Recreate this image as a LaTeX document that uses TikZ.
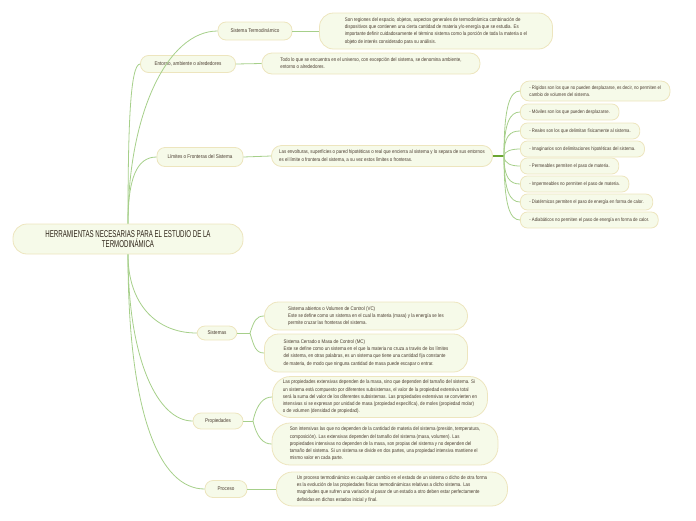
\documentclass[tikz,border=0pt]{standalone}
\usepackage{fontspec}
\setmainfont{Liberation Sans}
\newfontfamily\mapfont[FakeStretch=0.85]{Liberation Sans}
\newfontfamily\titlefont[FakeStretch=0.62]{Liberation Sans}
\usetikzlibrary{positioning}
\definecolor{nodefill}{HTML}{F6FAE9}
\definecolor{nodeline}{HTML}{EDE5BE}
\definecolor{linkgreen}{HTML}{A6CF8A}
\definecolor{hubgreen}{HTML}{6BA632}
\definecolor{inkbrown}{HTML}{4A3C30}
\definecolor{titleink}{HTML}{2E2418}

\begin{document}
\begin{tikzpicture}[
  x=1pt, y=-1pt,
  every node/.style={draw=nodeline, fill=nodefill, line width=0.8pt, text=inkbrown, inner sep=0pt},
  topic/.style={rounded corners=8pt, minimum height=17pt, font=\mapfont\fontsize{5.4}{7}\selectfont},
  leaf/.style={rounded corners=14pt, align=left, font=\mapfont\fontsize{5.2}{7.2}\selectfont},
  item/.style={anchor=west, rounded corners=7pt, minimum height=16pt, inner xsep=9pt, align=left, font=\mapfont\fontsize{5}{7.2}\selectfont},
  link/.style={draw=linkgreen, line width=0.8pt},
  hub/.style={draw=hubgreen, line width=2.4pt}
]
\useasboundingbox (0,0) rectangle (696,520);

% central topic
\node[rounded corners=14pt, minimum width=230pt, minimum height=30pt, align=center, text=titleink,
      font=\titlefont\fontsize{9.9}{10.8}\selectfont] (root) at (128,239)
  {HERRAMIENTAS NECESARIAS PARA EL ESTUDIO DE LA\\TERMODIN\'AMICA};

% main branches
\node[topic, minimum width=74pt, minimum height=18pt] (st) at (255,31) {Sistema Termodin\'amico};
\node[topic, minimum width=95pt] (env) at (188,64) {Entorno, ambiente o alrededores};
\node[topic, minimum width=86pt, minimum height=19pt] (lim) at (200,157) {L\'imites o Fronteras del Sistema};
\node[topic, minimum width=40pt, minimum height=14pt] (sis) at (217,333) {Sistemas};
\node[topic, minimum width=50pt, minimum height=16pt] (prop) at (218,421) {Propiedades};
\node[topic, minimum width=42pt] (proc) at (226,489) {Proceso};

% texts of the branches
\node[leaf, minimum width=233pt, minimum height=36pt] (stbox) at (436,31)
  {Son regiones del espacio, objetos, aspectos generales de termodin\'amica combinaci\'on de\\
   dispositivos que contienen una cierta cantidad de materia y/o energ\'ia que se estudia. Es\\
   importante definir cuidadosamente el t\'ermino sistema como la porci\'on de toda la materia o el\\
   objeto de inter\'es considerado para su an\'alisis.};
\node[leaf, rounded corners=10pt, minimum width=218pt, minimum height=21pt] (envbox) at (371,63.5)
  {Todo lo que se encuentra en el universo, con excepci\'on del sistema, se denomina ambiente,\\
   entorno o alrededores.};
\node[leaf, rounded corners=10pt, minimum width=221pt, minimum height=21pt] (limbox) at (382,156)
  {Las envolturas, superficies o pared hipot\'eticas o real que encierra al sistema y lo separa de sus entornos\\
   es el l\'imite o frontera del sistema, a su vez estos l\'imites o fronteras.};
\node[leaf, minimum width=203pt, minimum height=28pt] (sisbox1) at (366,316)
  {Sistema abiertos o Volumen de Control (VC)\\
   Este se define como un sistema en el cual la materia (masa) y la energ\'ia se les\\
   permite cruzar las fronteras del sistema.};
\node[leaf, minimum width=203pt, minimum height=38pt] (sisbox2) at (366,353)
  {Sistema Cerrado o Masa de Control (MC)\\
   Este se define como un sistema en el que la materia no cruza a trav\'es de los l\'imites\\
   del sistema, en otras palabras, es un sistema que tiene una cantidad fija constante\\
   de materia, de modo que ninguna cantidad de masa puede escapar o entrar.};
\node[leaf, rounded corners=18pt, minimum width=215pt, minimum height=41pt] (propbox1) at (380,397)
  {Las propiedades extensivas dependen de la masa, sino que dependen del tama\~no del sistema. Si\\
   un sistema est\'a compuesto por diferentes subsistemas, el valor de la propiedad extensiva total\\
   ser\'a la suma del valor de los diferentes subsistemas. Las propiedades extensivas se convierten en\\
   intensivas si se expresan por unidad de masa (propiedad espec\'ifica), de moles (propiedad molar)\\
   o de volumen (densidad de propiedad).};
\node[leaf, rounded corners=18pt, minimum width=226pt, minimum height=42pt] (propbox2) at (385,444)
  {Son intensivas las que no dependen de la cantidad de materia del sistema (presi\'on, temperatura,\\
   composici\'on). Las extensivas dependen del tama\~no del sistema (masa, volumen). Las\\
   propiedades intensivas no dependen de la masa, son propias del sistema y no dependen del\\
   tama\~no del sistema. Si un sistema se divide en dos partes, una propiedad intensiva mantiene el\\
   mismo valor en cada parte.};
\node[leaf, rounded corners=16pt, minimum width=231pt, minimum height=34pt] (procbox) at (392,489)
  {Un proceso termodin\'amico es cualquier cambio en el estado de un sistema o dicho de otra forma\\
   es la evoluci\'on de las propiedades f\'isicas termodin\'amicas relativas a dicho sistema. Las\\
   magnitudes que sufren una variaci\'on al pasar de un estado a otro deben estar perfectamente\\
   definidas en dichos estados inicial y final.};

% kinds of boundaries
\node[item, minimum height=20pt, rounded corners=9pt] (rigid) at (520,91)
  {- R\'igidos son los que no pueden desplazarse, es decir, no permiten el\\cambio de volumen del sistema.};
\node[item] (movil) at (520,112) {- M\'oviles son los que pueden desplazarse.};
\node[item] (real) at (520,131) {- Reales son los que delimitan f\'isicamente al sistema.};
\node[item] (imag) at (520,149) {- Imaginarios son delimitaciones hipot\'eticas del sistema.};
\node[item] (perm) at (520,166) {- Permeables permiten el paso de materia.};
\node[item] (imperm) at (520,184) {- Impermeables no permiten el paso de materia.};
\node[item] (diat) at (520,202) {- Diat\'ermicos permiten el paso de energ\'ia en forma de calor.};
\node[item] (adiab) at (520,220) {- Adiab\'aticos no permiten el paso de energ\'ia en forma de calor.};

% connectors from the central topic
\draw[link] (root.north) .. controls +(0,-110) and +(-50,0) .. (st.west);
\draw[link] (root.north) .. controls +(0,-95) and +(-10,0) .. (env.west);
\draw[link] (root.north) .. controls +(0,-45) and +(-20,0) .. (lim.west);
\draw[link] (root.south) .. controls +(0,50) and +(-40,0) .. (sis.west);
\draw[link] (root.south) .. controls +(0,105) and +(-35,0) .. (prop.west);
\draw[link] (root.south) .. controls +(0,160) and +(-45,0) .. (proc.west);

% branch to text
\draw[link] (st.east) -- (stbox.west);
\draw[link] (env.east) -- (envbox.west);
\draw[link] (lim.east) -- (limbox.west);
\draw[link] (proc.east) -- (procbox.west);

\coordinate (sishub) at (250,333);
\draw[link] (sis.east) -- (sishub);
\draw[link] (sishub) .. controls +(4,-12) and +(-8,0) .. (sisbox1.west);
\draw[link] (sishub) .. controls +(4,14) and +(-8,0) .. (sisbox2.west);

\coordinate (prophub) at (253,421);
\draw[link] (prop.east) -- (prophub);
\draw[link] (prophub) .. controls +(4,-18) and +(-8,0) .. (propbox1.west);
\draw[link] (prophub) .. controls +(4,17) and +(-8,0) .. (propbox2.west);

\coordinate (limhub) at (504,156);
\draw[hub] (limbox.east) -- (limhub);
\draw[link] (limhub) .. controls +(0,-50) and +(-10,0) .. (rigid.west);
\draw[link] (limhub) .. controls +(0,-33) and +(-10,0) .. (movil.west);
\draw[link] (limhub) .. controls +(0,-20) and +(-10,0) .. (real.west);
\draw[link] (limhub) .. controls +(0,-5) and +(-8,0) .. (imag.west);
\draw[link] (limhub) .. controls +(0,8) and +(-8,0) .. (perm.west);
\draw[link] (limhub) .. controls +(0,22) and +(-10,0) .. (imperm.west);
\draw[link] (limhub) .. controls +(0,35) and +(-10,0) .. (diat.west);
\draw[link] (limhub) .. controls +(0,50) and +(-10,0) .. (adiab.west);
\end{tikzpicture}
\end{document}
